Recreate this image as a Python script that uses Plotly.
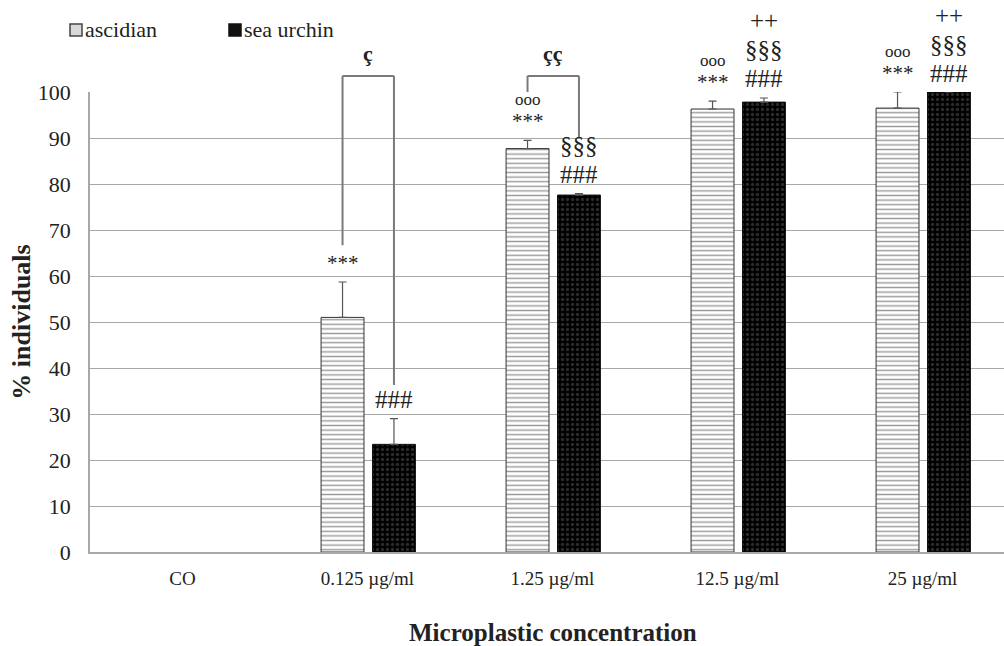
import plotly.graph_objects as go

# Data: % of individuals affected per microplastic concentration
categories = ["CO", "0.125 µg/ml", "1.25 µg/ml", "12.5 µg/ml", "25 µg/ml"]
ascidian = [0, 51.0, 87.7, 96.3, 96.5]
ascidian_err = [0, 7.7, 1.8, 1.7, 3.5]
sea_urchin = [0, 23.4, 77.6, 97.8, 100.0]
sea_urchin_err = [0, 5.6, 0.3, 0.9, 0]
yticks = [0, 10, 20, 30, 40, 50, 60, 70, 80, 90, 100]

# Significance marks above each bar, listed bottom-up
ascidian_marks = [[], ["***"], ["***", "ooo"], ["***", "ooo"], ["***", "ooo"]]
sea_urchin_marks = [[], ["###"], ["###", "§§§"], ["###", "§§§", "++"], ["###", "§§§", "++"]]
bracket_labels = ["ç", "çç"]

FONT = "Liberation Serif"
INK = "#222222"
GRID = "#a8a8a8"

# Plot area geometry (pixels)
L, T, W_PX, H_PX = 90, 92, 1004, 646
PLOT_W = W_PX - L
PLOT_H = 552 - T
CAT_PX = 185.0
x_hi = -0.5 + PLOT_W / CAT_PX

BAR_W = 0.232
OFF_A = -0.251
OFF_U = 0.027
center_a = OFF_A + BAR_W / 2
center_u = OFF_U + BAR_W / 2


def px_x(px):
    return (px - L) / PLOT_W


def px_y(py):
    return (552 - py) / PLOT_H


def shown(values):
    # empty (zero) groups get no bar, outline or error cap
    return [v if v > 0 else None for v in values]


fig = go.Figure()
fig.add_trace(go.Bar(
    x=list(range(len(categories))), y=shown(ascidian), name="ascidian",
    width=BAR_W, offset=OFF_A,
    marker=dict(color="white", line=dict(color="#333333", width=1),
                pattern=dict(shape="-", size=4.6, solidity=0.32,
                             fgcolor="#3a3a3a", bgcolor="white")),
    error_y=dict(type="data", symmetric=False, array=ascidian_err,
                 arrayminus=[0] * len(ascidian), color="#555555",
                 thickness=1.2, width=4),
    showlegend=False,
))
fig.add_trace(go.Bar(
    x=list(range(len(categories))), y=shown(sea_urchin), name="sea urchin",
    width=BAR_W, offset=OFF_U,
    marker=dict(color="black", line=dict(color="#111111", width=1),
                pattern=dict(shape=".", size=5, solidity=0.35,
                             fgcolor="#555555", bgcolor="black")),
    error_y=dict(type="data", symmetric=False, array=sea_urchin_err,
                 arrayminus=[0] * len(sea_urchin), color="#555555",
                 thickness=1.2, width=4),
    showlegend=False,
))

annotations = []
mark_size = {"***": 21, "ooo": 17, "###": 25, "§§§": 25, "++": 25}
mark_step = {"***": 22, "###": 29, "§§§": 29}


def add_marks(i, top, marks, dx):
    shift = 19
    for m in marks:
        annotations.append(dict(
            x=i + dx, y=top, xref="x", yref="y", text=m, showarrow=False,
            yanchor="middle", yshift=shift, borderpad=0,
            font=dict(family=FONT, size=mark_size[m], color=INK)))
        shift += mark_step.get(m, 0)


for i in range(len(categories)):
    add_marks(i, ascidian[i] + ascidian_err[i], ascidian_marks[i], center_a)
    add_marks(i, sea_urchin[i] + sea_urchin_err[i], sea_urchin_marks[i], center_u)

# Brackets comparing the two species (category, left foot, right foot)
shapes = []
brackets = [(1, 66.7, 36.3), (2, 100.0, 90.0)]
BR_TOP = 103.5
for (i, lo_l, lo_r), lab in zip(brackets, bracket_labels):
    xl, xr = i + center_a, i + center_u
    for x0, y0, x1, y1 in [(xl, lo_l, xl, BR_TOP), (xl, BR_TOP, xr, BR_TOP),
                           (xr, BR_TOP, xr, lo_r)]:
        shapes.append(dict(type="line", xref="x", yref="paper",
                           x0=x0, x1=x1, y0=y0 / 100, y1=y1 / 100,
                           line=dict(color="#7a7a7a", width=2)))
    annotations.append(dict(
        x=(xl + xr) / 2, y=1.084, xref="x", yref="paper", text="<b>%s</b>" % lab,
        showarrow=False, yanchor="middle",
        font=dict(family=FONT, size=22, color=INK)))

# Legend drawn as swatches and labels above the plot
legend_items = [("ascidian", 70, "#d9d9d9", "#444444"),
                ("sea urchin", 229, "#111111", "#111111")]
for label, x0, fill, edge in legend_items:
    shapes.append(dict(type="rect", xref="paper", yref="paper",
                       x0=px_x(x0), x1=px_x(x0 + 12), y0=px_y(36), y1=px_y(24),
                       fillcolor=fill, line=dict(color=edge, width=1.5)))
    annotations.append(dict(
        x=px_x(x0 + 13), y=px_y(29), xref="paper", yref="paper", text=label,
        showarrow=False, xanchor="left", yanchor="middle",
        font=dict(family=FONT, size=22, color=INK)))

annotations.append(dict(
    x=px_x(553), y=px_y(632), xref="paper", yref="paper",
    text="<b>Microplastic concentration</b>", showarrow=False,
    xanchor="center", yanchor="middle",
    font=dict(family=FONT, size=25, color=INK)))

fig.update_layout(
    width=W_PX, height=H_PX,
    margin=dict(l=L, r=0, t=T, b=H_PX - 552),
    paper_bgcolor="white", plot_bgcolor="white",
    barmode="overlay",
    font=dict(family=FONT, size=20, color=INK),
    annotations=annotations, shapes=shapes,
    xaxis=dict(
        range=[-0.5, x_hi], tickmode="array",
        tickvals=list(range(len(categories))), ticktext=categories,
        showgrid=False, zeroline=False, showline=True, linecolor=GRID,
        linewidth=1.5, ticks="", ticklabelstandoff=8,
        tickfont=dict(family=FONT, size=19, color=INK),
    ),
    yaxis=dict(
        range=[0, 100], tickvals=yticks, showgrid=True, gridcolor=GRID,
        gridwidth=1.3, zeroline=False, showline=True, linecolor=GRID,
        linewidth=1.5, ticks="", ticklabelstandoff=13,
        tickfont=dict(family=FONT, size=22, color=INK),
        title=dict(text="<b>% individuals</b>", standoff=0,
                   font=dict(family=FONT, size=26, color=INK)),
    ),
)

fig.write_html("out.html")
